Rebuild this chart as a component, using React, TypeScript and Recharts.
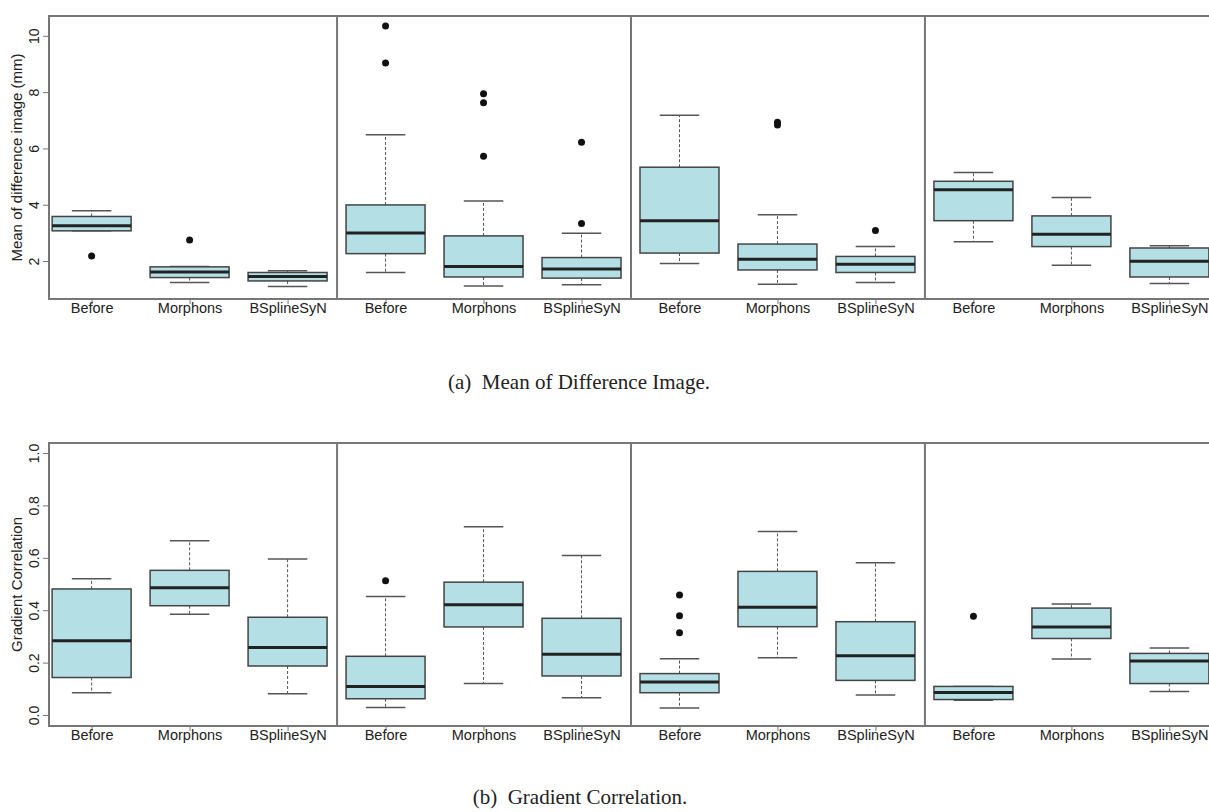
import React from "react";
import { Bar, ComposedChart, ReferenceArea, ReferenceLine, XAxis, YAxis } from "recharts";

const groupNames = ["Before", "Morphons", "BSplineSyN"];
const positions = [1, 2, 3, 4, 5, 6, 7, 8, 9, 10, 11, 12];
const separators = [3.5, 6.5, 9.5];
const xDomain = [0.56, 12.44];

// (a) mean of difference image, mm
const meanLow = [3.09, 1.25, 1.11, 1.61, 1.13, 1.17, 1.93, 1.19, 1.25, 2.7, 1.87, 1.22];
const meanQ1 = [3.09, 1.43, 1.31, 2.28, 1.45, 1.41, 2.3, 1.7, 1.61, 3.45, 2.53, 1.45];
const meanMedian = [3.27, 1.63, 1.47, 3.01, 1.82, 1.73, 3.45, 2.08, 1.9, 4.55, 2.97, 2.01];
const meanQ3 = [3.6, 1.81, 1.61, 4.01, 2.91, 2.14, 5.35, 2.62, 2.18, 4.85, 3.62, 2.48];
const meanHigh = [3.8, 1.82, 1.67, 6.5, 4.15, 3.0, 7.2, 3.66, 2.53, 5.16, 4.27, 2.56];
const meanOutliers = [[2.2], [2.76], [], [9.05, 10.37], [5.74, 7.64, 7.96], [3.35, 6.24], [], [6.85, 6.95], [3.1], [], [], []];
const meanTicks = [2, 4, 6, 8, 10];
const meanDomain = [0.668, 10.722];

// (b) gradient correlation
const gcLow = [0.087, 0.386, 0.083, 0.031, 0.122, 0.068, 0.029, 0.22, 0.078, 0.058, 0.216, 0.092];
const gcQ1 = [0.145, 0.419, 0.189, 0.064, 0.338, 0.151, 0.087, 0.339, 0.134, 0.061, 0.294, 0.122];
const gcMedian = [0.285, 0.488, 0.26, 0.111, 0.423, 0.234, 0.128, 0.413, 0.228, 0.088, 0.338, 0.208];
const gcQ3 = [0.483, 0.554, 0.375, 0.226, 0.509, 0.371, 0.16, 0.55, 0.358, 0.111, 0.41, 0.237];
const gcHigh = [0.522, 0.667, 0.597, 0.454, 0.72, 0.611, 0.217, 0.702, 0.583, 0.111, 0.426, 0.258];
const gcOutliers = [[], [], [], [0.514], [], [], [0.316, 0.381, 0.46], [], [], [0.379], [], []];
const gcTicks = [0, 0.2, 0.4, 0.6, 0.8, 1.0];
const gcDomain = [-0.04, 1.04];

const AXIS_FONT = "'Liberation Sans', Arial, Helvetica, sans-serif";
const BORDER = "#777";

function buildRows(low, q1, median, q3, high, outliers) {
  return positions.map((pos, i) => {
    const all = [low[i], high[i], ...outliers[i]];
    return {
      pos,
      name: groupNames[i % 3],
      low: low[i],
      q1: q1[i],
      median: median[i],
      q3: q3[i],
      high: high[i],
      outliers: outliers[i],
      span: [Math.min(...all), Math.max(...all)],
    };
  });
}

const meanRows = buildRows(meanLow, meanQ1, meanMedian, meanQ3, meanHigh, meanOutliers);
const gcRows = buildRows(gcLow, gcQ1, gcMedian, gcQ3, gcHigh, gcOutliers);

// the bar covers the full span of a group; everything else is placed inside it
function BoxShape(props: any) {
  const { x, y, width, height, payload } = props;
  const [lo, hi] = payload.span;
  const py = (v: number) => y + ((hi - v) / (hi - lo)) * height;
  const cx = x + width / 2;
  const cap = width / 4;
  return (
    <g>
      <line x1={cx} x2={cx} y1={py(payload.q3)} y2={py(payload.high)} stroke="#555" strokeDasharray="3 2" />
      <line x1={cx} x2={cx} y1={py(payload.q1)} y2={py(payload.low)} stroke="#555" strokeDasharray="3 2" />
      <line x1={cx - cap} x2={cx + cap} y1={py(payload.high)} y2={py(payload.high)} stroke="#555" strokeWidth={1.5} />
      <line x1={cx - cap} x2={cx + cap} y1={py(payload.low)} y2={py(payload.low)} stroke="#555" strokeWidth={1.5} />
      <rect
        x={x}
        y={py(payload.q3)}
        width={width}
        height={py(payload.q1) - py(payload.q3)}
        fill="#b4dfe5"
        stroke="#444"
        strokeWidth={1.5}
      />
      <line x1={x} x2={x + width} y1={py(payload.median)} y2={py(payload.median)} stroke="#222" strokeWidth={3} />
      {payload.outliers.map((v: number, i: number) => (
        <circle key={i} cx={cx} cy={py(v)} r={3.5} fill="#111" />
      ))}
    </g>
  );
}

function XTick({ x, y, payload }: any) {
  return (
    <text x={x} y={y + 7} textAnchor="middle" fontFamily={AXIS_FONT} fontSize={14.5} fill="#222">
      {groupNames[(payload.value - 1) % 3]}
    </text>
  );
}

function makeYTick(format: (v: number) => string) {
  return function YTick({ x, y, payload }: any) {
    return (
      <text
        x={x}
        y={y}
        transform={`rotate(-90 ${x} ${y})`}
        textAnchor="middle"
        fontFamily={AXIS_FONT}
        fontSize={14}
        fill="#222"
      >
        {format(payload.value)}
      </text>
    );
  };
}

function Panel({ rows, domain, ticks, format, title, top }: any) {
  const YTick = makeYTick(format);
  return (
    <div style={{ position: "absolute", left: 0, top }}>
      <ComposedChart width={1240} height={325} data={rows} margin={{ top: 16, right: 27, bottom: 4, left: 0 }}>
        <XAxis
          dataKey="pos"
          type="number"
          domain={xDomain}
          ticks={positions}
          interval={0}
          allowDataOverflow
          height={22}
          tickSize={5}
          tickMargin={2}
          axisLine={false}
          tickLine={{ stroke: BORDER }}
          tick={<XTick />}
        />
        <YAxis
          type="number"
          domain={domain}
          ticks={ticks}
          allowDataOverflow
          width={49}
          tickSize={6}
          tickMargin={4}
          axisLine={false}
          tickLine={{ stroke: BORDER }}
          tick={<YTick />}
          label={{
            content: ({ viewBox }: any) => {
              const cx = 22;
              const cy = viewBox.y + viewBox.height / 2;
              return (
                <text
                  x={cx}
                  y={cy}
                  transform={`rotate(-90 ${cx} ${cy})`}
                  textAnchor="middle"
                  fontFamily={AXIS_FONT}
                  fontSize={15}
                  fill="#222"
                >
                  {title}
                </text>
              );
            },
          }}
        />
        <ReferenceArea
          x1={xDomain[0]}
          x2={xDomain[1]}
          y1={domain[0]}
          y2={domain[1]}
          fill="none"
          stroke={BORDER}
          strokeWidth={2}
          fillOpacity={0}
        />
        {separators.map((s) => (
          <ReferenceLine key={s} x={s} stroke={BORDER} strokeWidth={2} />
        ))}
        <Bar dataKey={(d: any) => d.span} barSize={79} shape={<BoxShape />} isAnimationActive={false} />
      </ComposedChart>
    </div>
  );
}

export default function App() {
  return (
    <div
      style={{
        position: "fixed",
        left: 0,
        top: 0,
        width: 1209,
        height: 812,
        overflow: "hidden",
        background: "#fff",
      }}
    >
      <Panel
        rows={meanRows}
        domain={meanDomain}
        ticks={meanTicks}
        format={(v: number) => String(v)}
        title="Mean of difference image (mm)"
        top={0}
      />
      <Panel
        rows={gcRows}
        domain={gcDomain}
        ticks={gcTicks}
        format={(v: number) => v.toFixed(1)}
        title="Gradient Correlation"
        top={427}
      />
      <svg width={1209} height={812} style={{ position: "absolute", left: 0, top: 0, pointerEvents: "none" }}>
        <text
          x={579}
          y={389}
          textAnchor="middle"
          fontFamily="'Liberation Serif', 'Times New Roman', serif"
          fontSize={21}
          fill="#222"
          xmlSpace="preserve"
        >
          (a)  Mean of Difference Image.
        </text>
        <text
          x={580}
          y={804}
          textAnchor="middle"
          fontFamily="'Liberation Serif', 'Times New Roman', serif"
          fontSize={21}
          fill="#222"
          xmlSpace="preserve"
        >
          (b)  Gradient Correlation.
        </text>
      </svg>
    </div>
  );
}
